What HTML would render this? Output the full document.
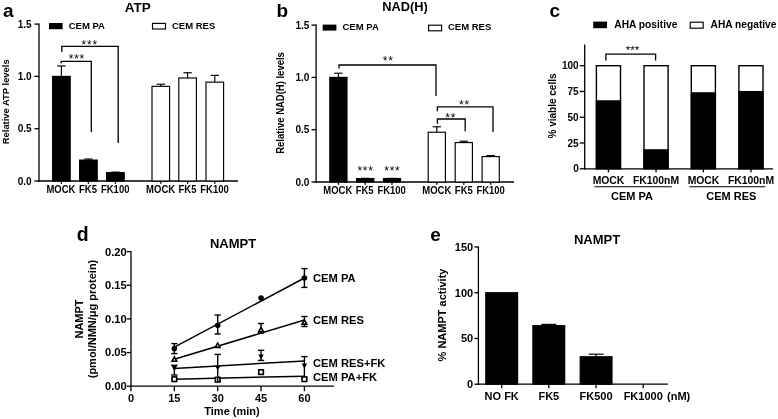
<!DOCTYPE html>
<html><head><meta charset="utf-8"><title>Figure</title>
<style>
html,body{margin:0;padding:0;background:#fff;}
svg{display:block;}
svg text{font-family:"Liberation Sans",sans-serif;fill:#000;}
</style></head><body>
<svg width="778" height="419" viewBox="0 0 778 419">
<rect x="0" y="0" width="778" height="419" fill="#fff"/>
<text x="3.00" y="16.80" font-size="19" text-anchor="start" font-weight="bold" >a</text>
<text x="137.80" y="12.30" font-size="13.5" text-anchor="middle" font-weight="bold" >ATP</text>
<line x1="39.00" y1="23.50" x2="39.00" y2="181.60" stroke="#000" stroke-width="1.3" />
<line x1="38.40" y1="181.00" x2="238.00" y2="181.00" stroke="#000" stroke-width="1.3" />
<line x1="34.40" y1="181.00" x2="39.00" y2="181.00" stroke="#000" stroke-width="1.3" />
<text x="31.70" y="184.50" font-size="10.1" text-anchor="end" font-weight="bold" >0.0</text>
<line x1="34.40" y1="128.70" x2="39.00" y2="128.70" stroke="#000" stroke-width="1.3" />
<text x="31.70" y="132.20" font-size="10.1" text-anchor="end" font-weight="bold" >0.5</text>
<line x1="34.40" y1="76.40" x2="39.00" y2="76.40" stroke="#000" stroke-width="1.3" />
<text x="31.70" y="79.90" font-size="10.1" text-anchor="end" font-weight="bold" >1.0</text>
<line x1="34.40" y1="24.10" x2="39.00" y2="24.10" stroke="#000" stroke-width="1.3" />
<text x="31.70" y="27.60" font-size="10.1" text-anchor="end" font-weight="bold" >1.5</text>
<text transform="translate(8.60,101.80) rotate(-90) scale(0.9434,1)" font-size="9.96" text-anchor="middle" font-weight="bold">Relative ATP levels</text>
<line x1="61.40" y1="65.94" x2="61.40" y2="76.40" stroke="#000" stroke-width="1.15" />
<line x1="57.20" y1="65.94" x2="65.60" y2="65.94" stroke="#000" stroke-width="1.15" />
<rect x="52.60" y="76.40" width="17.60" height="104.60" fill="#000" stroke="#000" stroke-width="1.15"/>
<line x1="61.40" y1="181.00" x2="61.40" y2="183.80" stroke="#000" stroke-width="1.3" />
<line x1="88.40" y1="159.03" x2="88.40" y2="160.08" stroke="#000" stroke-width="1.15" />
<line x1="84.20" y1="159.03" x2="92.60" y2="159.03" stroke="#000" stroke-width="1.15" />
<rect x="79.60" y="160.08" width="17.60" height="20.92" fill="#000" stroke="#000" stroke-width="1.15"/>
<line x1="88.40" y1="181.00" x2="88.40" y2="183.80" stroke="#000" stroke-width="1.3" />
<line x1="115.40" y1="172.11" x2="115.40" y2="172.63" stroke="#000" stroke-width="1.15" />
<line x1="111.20" y1="172.11" x2="119.60" y2="172.11" stroke="#000" stroke-width="1.15" />
<rect x="106.60" y="172.63" width="17.60" height="8.37" fill="#000" stroke="#000" stroke-width="1.15"/>
<line x1="115.40" y1="181.00" x2="115.40" y2="183.80" stroke="#000" stroke-width="1.3" />
<line x1="160.80" y1="84.25" x2="160.80" y2="86.34" stroke="#000" stroke-width="1.15" />
<line x1="156.60" y1="84.25" x2="165.00" y2="84.25" stroke="#000" stroke-width="1.15" />
<rect x="152.00" y="86.34" width="17.60" height="94.66" fill="#fff" stroke="#000" stroke-width="1.15"/>
<line x1="160.80" y1="181.00" x2="160.80" y2="183.80" stroke="#000" stroke-width="1.3" />
<line x1="187.60" y1="72.74" x2="187.60" y2="77.97" stroke="#000" stroke-width="1.15" />
<line x1="183.40" y1="72.74" x2="191.80" y2="72.74" stroke="#000" stroke-width="1.15" />
<rect x="178.80" y="77.97" width="17.60" height="103.03" fill="#fff" stroke="#000" stroke-width="1.15"/>
<line x1="187.60" y1="181.00" x2="187.60" y2="183.80" stroke="#000" stroke-width="1.3" />
<line x1="214.80" y1="75.35" x2="214.80" y2="82.15" stroke="#000" stroke-width="1.15" />
<line x1="210.60" y1="75.35" x2="219.00" y2="75.35" stroke="#000" stroke-width="1.15" />
<rect x="206.00" y="82.15" width="17.60" height="98.85" fill="#fff" stroke="#000" stroke-width="1.15"/>
<line x1="214.80" y1="181.00" x2="214.80" y2="183.80" stroke="#000" stroke-width="1.3" />
<text transform="translate(60.90,193.30) scale(0.9434,1)" font-size="10.07" text-anchor="middle" font-weight="bold" >MOCK</text>
<text transform="translate(88.00,193.30) scale(0.9434,1)" font-size="10.07" text-anchor="middle" font-weight="bold" >FK5</text>
<text transform="translate(115.20,193.30) scale(0.9434,1)" font-size="10.07" text-anchor="middle" font-weight="bold" >FK100</text>
<text transform="translate(160.60,193.30) scale(0.9434,1)" font-size="10.07" text-anchor="middle" font-weight="bold" >MOCK</text>
<text transform="translate(187.50,193.30) scale(0.9434,1)" font-size="10.07" text-anchor="middle" font-weight="bold" >FK5</text>
<text transform="translate(214.50,193.30) scale(0.9434,1)" font-size="10.07" text-anchor="middle" font-weight="bold" >FK100</text>
<rect x="49.00" y="23.00" width="13.60" height="6.20" fill="#000" stroke="none" stroke-width="0"/>
<text x="68.70" y="29.20" font-size="9.5" text-anchor="start" font-weight="bold" >CEM PA</text>
<rect x="152.50" y="23.40" width="13.00" height="5.60" fill="#fff" stroke="#000" stroke-width="1.15"/>
<text x="172.00" y="29.20" font-size="9.5" text-anchor="start" font-weight="bold" >CEM RES</text>
<polyline points="61.80,52.10 61.80,46.30 118.20,46.30 118.20,143.00" fill="none" stroke="#000" stroke-width="1.3" stroke-linejoin="miter"/>
<polyline points="61.20,63.30 61.20,61.30 91.30,61.30 91.30,132.00" fill="none" stroke="#000" stroke-width="1.3" stroke-linejoin="miter"/>
<text x="81.52" y="49.00" font-size="12" font-weight="normal" letter-spacing="0.78">***</text>
<text x="68.72" y="63.00" font-size="12" font-weight="normal" letter-spacing="0.78">***</text>
<text x="276.50" y="16.50" font-size="19" text-anchor="start" font-weight="bold" >b</text>
<text x="405.00" y="11.00" font-size="12.8" text-anchor="middle" font-weight="bold" >NAD(H)</text>
<line x1="316.10" y1="24.50" x2="316.10" y2="182.60" stroke="#000" stroke-width="1.3" />
<line x1="315.50" y1="182.00" x2="514.00" y2="182.00" stroke="#000" stroke-width="1.3" />
<line x1="311.50" y1="182.00" x2="316.10" y2="182.00" stroke="#000" stroke-width="1.3" />
<text x="309.50" y="185.50" font-size="10.1" text-anchor="end" font-weight="bold" >0.0</text>
<line x1="311.50" y1="129.70" x2="316.10" y2="129.70" stroke="#000" stroke-width="1.3" />
<text x="309.50" y="133.20" font-size="10.1" text-anchor="end" font-weight="bold" >0.5</text>
<line x1="311.50" y1="77.40" x2="316.10" y2="77.40" stroke="#000" stroke-width="1.3" />
<text x="309.50" y="80.90" font-size="10.1" text-anchor="end" font-weight="bold" >1.0</text>
<line x1="311.50" y1="25.10" x2="316.10" y2="25.10" stroke="#000" stroke-width="1.3" />
<text x="309.50" y="28.60" font-size="10.1" text-anchor="end" font-weight="bold" >1.5</text>
<text transform="translate(284.20,103.00) rotate(-90) scale(0.9434,1)" font-size="10.07" text-anchor="middle" font-weight="bold">Relative NAD(H) levels</text>
<line x1="338.40" y1="73.22" x2="338.40" y2="77.40" stroke="#000" stroke-width="1.15" />
<line x1="334.20" y1="73.22" x2="342.60" y2="73.22" stroke="#000" stroke-width="1.15" />
<rect x="329.80" y="77.40" width="17.20" height="104.60" fill="#000" stroke="#000" stroke-width="1.15"/>
<line x1="338.40" y1="182.00" x2="338.40" y2="184.80" stroke="#000" stroke-width="1.3" />
<line x1="365.20" y1="178.34" x2="365.20" y2="178.55" stroke="#000" stroke-width="1.15" />
<line x1="361.00" y1="178.34" x2="369.40" y2="178.34" stroke="#000" stroke-width="1.15" />
<rect x="356.60" y="178.55" width="17.20" height="3.45" fill="#000" stroke="#000" stroke-width="1.15"/>
<line x1="365.20" y1="182.00" x2="365.20" y2="184.80" stroke="#000" stroke-width="1.3" />
<line x1="392.00" y1="178.34" x2="392.00" y2="178.55" stroke="#000" stroke-width="1.15" />
<line x1="387.80" y1="178.34" x2="396.20" y2="178.34" stroke="#000" stroke-width="1.15" />
<rect x="383.40" y="178.55" width="17.20" height="3.45" fill="#000" stroke="#000" stroke-width="1.15"/>
<line x1="392.00" y1="182.00" x2="392.00" y2="184.80" stroke="#000" stroke-width="1.3" />
<line x1="436.80" y1="126.77" x2="436.80" y2="132.21" stroke="#000" stroke-width="1.15" />
<line x1="432.60" y1="126.77" x2="441.00" y2="126.77" stroke="#000" stroke-width="1.15" />
<rect x="428.20" y="132.21" width="17.20" height="49.79" fill="#fff" stroke="#000" stroke-width="1.15"/>
<line x1="436.80" y1="182.00" x2="436.80" y2="184.80" stroke="#000" stroke-width="1.3" />
<line x1="463.80" y1="141.21" x2="463.80" y2="142.57" stroke="#000" stroke-width="1.15" />
<line x1="459.60" y1="141.21" x2="468.00" y2="141.21" stroke="#000" stroke-width="1.15" />
<rect x="455.20" y="142.57" width="17.20" height="39.43" fill="#fff" stroke="#000" stroke-width="1.15"/>
<line x1="463.80" y1="182.00" x2="463.80" y2="184.80" stroke="#000" stroke-width="1.3" />
<line x1="490.70" y1="155.54" x2="490.70" y2="156.58" stroke="#000" stroke-width="1.15" />
<line x1="486.50" y1="155.54" x2="494.90" y2="155.54" stroke="#000" stroke-width="1.15" />
<rect x="482.10" y="156.58" width="17.20" height="25.42" fill="#fff" stroke="#000" stroke-width="1.15"/>
<line x1="490.70" y1="182.00" x2="490.70" y2="184.80" stroke="#000" stroke-width="1.3" />
<text transform="translate(337.80,193.90) scale(0.9434,1)" font-size="10.07" text-anchor="middle" font-weight="bold" >MOCK</text>
<text transform="translate(364.60,193.90) scale(0.9434,1)" font-size="10.07" text-anchor="middle" font-weight="bold" >FK5</text>
<text transform="translate(391.60,193.90) scale(0.9434,1)" font-size="10.07" text-anchor="middle" font-weight="bold" >FK100</text>
<text transform="translate(436.80,193.90) scale(0.9434,1)" font-size="10.07" text-anchor="middle" font-weight="bold" >MOCK</text>
<text transform="translate(463.80,193.90) scale(0.9434,1)" font-size="10.07" text-anchor="middle" font-weight="bold" >FK5</text>
<text transform="translate(490.60,193.90) scale(0.9434,1)" font-size="10.07" text-anchor="middle" font-weight="bold" >FK100</text>
<rect x="322.70" y="24.60" width="13.70" height="6.00" fill="#000" stroke="none" stroke-width="0"/>
<text x="342.50" y="30.40" font-size="9.5" text-anchor="start" font-weight="bold" >CEM PA</text>
<rect x="428.60" y="25.20" width="13.00" height="5.60" fill="#fff" stroke="#000" stroke-width="1.15"/>
<text x="448.00" y="30.40" font-size="9.5" text-anchor="start" font-weight="bold" >CEM RES</text>
<polyline points="339.00,68.40 339.00,65.00 436.00,65.00 436.00,96.00" fill="none" stroke="#000" stroke-width="1.3" stroke-linejoin="miter"/>
<text x="382.74" y="65.10" font-size="12" font-weight="normal" letter-spacing="0.78">**</text>
<polyline points="437.40,111.30 437.40,106.80 493.00,106.80 493.00,132.00" fill="none" stroke="#000" stroke-width="1.3" stroke-linejoin="miter"/>
<text x="458.94" y="109.20" font-size="12" font-weight="normal" letter-spacing="0.78">**</text>
<polyline points="437.40,123.80 437.40,119.00 465.20,119.00 465.20,131.30" fill="none" stroke="#000" stroke-width="1.3" stroke-linejoin="miter"/>
<text x="445.34" y="121.90" font-size="12" font-weight="normal" letter-spacing="0.78">**</text>
<text x="357.42" y="174.90" font-size="12" font-weight="normal" letter-spacing="0.78">***</text>
<text x="384.22" y="174.90" font-size="12" font-weight="normal" letter-spacing="0.78">***</text>
<text x="549.50" y="17.00" font-size="19" text-anchor="start" font-weight="bold" >c</text>
<line x1="584.70" y1="44.60" x2="584.70" y2="169.40" stroke="#000" stroke-width="1.3" />
<line x1="584.10" y1="168.80" x2="773.00" y2="168.80" stroke="#000" stroke-width="1.3" />
<line x1="579.70" y1="168.80" x2="584.70" y2="168.80" stroke="#000" stroke-width="1.3" />
<text x="578.70" y="172.30" font-size="10" text-anchor="end" font-weight="bold" >0</text>
<line x1="579.70" y1="143.03" x2="584.70" y2="143.03" stroke="#000" stroke-width="1.3" />
<text x="578.70" y="146.53" font-size="10" text-anchor="end" font-weight="bold" >25</text>
<line x1="579.70" y1="117.25" x2="584.70" y2="117.25" stroke="#000" stroke-width="1.3" />
<text x="578.70" y="120.75" font-size="10" text-anchor="end" font-weight="bold" >50</text>
<line x1="579.70" y1="91.48" x2="584.70" y2="91.48" stroke="#000" stroke-width="1.3" />
<text x="578.70" y="94.98" font-size="10" text-anchor="end" font-weight="bold" >75</text>
<line x1="579.70" y1="65.70" x2="584.70" y2="65.70" stroke="#000" stroke-width="1.3" />
<text x="578.70" y="69.20" font-size="10" text-anchor="end" font-weight="bold" >100</text>
<text transform="translate(556.20,106.00) rotate(-90)" font-size="10" text-anchor="middle" font-weight="bold">% viable cells</text>
<rect x="596.40" y="65.70" width="24.10" height="103.10" fill="#fff" stroke="#000" stroke-width="1.4"/>
<rect x="595.80" y="100.24" width="25.30" height="68.56" fill="#000" stroke="none" stroke-width="0"/>
<line x1="608.45" y1="168.80" x2="608.45" y2="172.30" stroke="#000" stroke-width="1.3" />
<rect x="644.00" y="65.70" width="24.10" height="103.10" fill="#fff" stroke="#000" stroke-width="1.4"/>
<rect x="643.40" y="149.21" width="25.30" height="19.59" fill="#000" stroke="none" stroke-width="0"/>
<line x1="656.05" y1="168.80" x2="656.05" y2="172.30" stroke="#000" stroke-width="1.3" />
<rect x="691.30" y="65.70" width="24.10" height="103.10" fill="#fff" stroke="#000" stroke-width="1.4"/>
<rect x="690.70" y="92.20" width="25.30" height="76.60" fill="#000" stroke="none" stroke-width="0"/>
<line x1="703.35" y1="168.80" x2="703.35" y2="172.30" stroke="#000" stroke-width="1.3" />
<rect x="738.90" y="65.70" width="24.10" height="103.10" fill="#fff" stroke="#000" stroke-width="1.4"/>
<rect x="738.30" y="90.96" width="25.30" height="77.84" fill="#000" stroke="none" stroke-width="0"/>
<line x1="750.95" y1="168.80" x2="750.95" y2="172.30" stroke="#000" stroke-width="1.3" />
<text x="608.50" y="183.50" font-size="10.4" text-anchor="middle" font-weight="bold" >MOCK</text>
<text x="656.00" y="183.50" font-size="10.4" text-anchor="middle" font-weight="bold" >FK100nM</text>
<text x="703.50" y="183.50" font-size="10.4" text-anchor="middle" font-weight="bold" >MOCK</text>
<text x="751.00" y="183.50" font-size="10.4" text-anchor="middle" font-weight="bold" >FK100nM</text>
<line x1="594.40" y1="186.80" x2="671.80" y2="186.80" stroke="#000" stroke-width="1.1" />
<line x1="689.40" y1="186.80" x2="765.30" y2="186.80" stroke="#000" stroke-width="1.1" />
<text x="632.00" y="199.70" font-size="11" text-anchor="middle" font-weight="bold" >CEM PA</text>
<text x="731.30" y="199.70" font-size="11" text-anchor="middle" font-weight="bold" >CEM RES</text>
<rect x="593.20" y="21.60" width="13.80" height="6.60" fill="#000" stroke="none" stroke-width="0"/>
<text x="614.30" y="28.30" font-size="10.2" text-anchor="start" font-weight="bold" >AHA positive</text>
<rect x="690.20" y="22.20" width="13.00" height="6.00" fill="#fff" stroke="#000" stroke-width="1.15"/>
<text x="710.60" y="28.30" font-size="10.2" text-anchor="start" font-weight="bold" >AHA negative</text>
<polyline points="605.90,60.40 605.90,54.20 655.60,54.20 655.60,60.40" fill="none" stroke="#000" stroke-width="1.3" stroke-linejoin="miter"/>
<text x="625.76" y="54.41" font-size="11.5" font-weight="normal" letter-spacing="0.03">***</text>
<text x="76.80" y="241.00" font-size="19.5" text-anchor="start" font-weight="bold" >d</text>
<text x="233.00" y="248.00" font-size="13" text-anchor="middle" font-weight="bold" >NAMPT</text>
<line x1="131.00" y1="251.00" x2="131.00" y2="386.80" stroke="#000" stroke-width="1.3" />
<line x1="130.40" y1="386.20" x2="334.00" y2="386.20" stroke="#000" stroke-width="1.3" />
<line x1="126.70" y1="386.20" x2="131.00" y2="386.20" stroke="#000" stroke-width="1.3" />
<text x="126.80" y="390.10" font-size="11.2" text-anchor="end" font-weight="bold" >0.00</text>
<line x1="126.70" y1="352.55" x2="131.00" y2="352.55" stroke="#000" stroke-width="1.3" />
<text x="126.80" y="356.45" font-size="11.2" text-anchor="end" font-weight="bold" >0.05</text>
<line x1="126.70" y1="318.90" x2="131.00" y2="318.90" stroke="#000" stroke-width="1.3" />
<text x="126.80" y="322.80" font-size="11.2" text-anchor="end" font-weight="bold" >0.10</text>
<line x1="126.70" y1="285.25" x2="131.00" y2="285.25" stroke="#000" stroke-width="1.3" />
<text x="126.80" y="289.15" font-size="11.2" text-anchor="end" font-weight="bold" >0.15</text>
<line x1="126.70" y1="251.60" x2="131.00" y2="251.60" stroke="#000" stroke-width="1.3" />
<text x="126.80" y="255.50" font-size="11.2" text-anchor="end" font-weight="bold" >0.20</text>
<line x1="131.00" y1="386.20" x2="131.00" y2="391.20" stroke="#000" stroke-width="1.3" />
<text x="131.00" y="401.80" font-size="11" text-anchor="middle" font-weight="bold" >0</text>
<line x1="174.35" y1="386.20" x2="174.35" y2="391.20" stroke="#000" stroke-width="1.3" />
<text x="174.35" y="401.80" font-size="11" text-anchor="middle" font-weight="bold" >15</text>
<line x1="217.70" y1="386.20" x2="217.70" y2="391.20" stroke="#000" stroke-width="1.3" />
<text x="217.70" y="401.80" font-size="11" text-anchor="middle" font-weight="bold" >30</text>
<line x1="261.05" y1="386.20" x2="261.05" y2="391.20" stroke="#000" stroke-width="1.3" />
<text x="261.05" y="401.80" font-size="11" text-anchor="middle" font-weight="bold" >45</text>
<line x1="304.40" y1="386.20" x2="304.40" y2="391.20" stroke="#000" stroke-width="1.3" />
<text x="304.40" y="401.80" font-size="11" text-anchor="middle" font-weight="bold" >60</text>
<text x="232.00" y="414.60" font-size="11" text-anchor="middle" font-weight="bold" >Time (min)</text>
<text transform="translate(82.50,319.00) rotate(-90)" font-size="11" text-anchor="middle" font-weight="bold">NAMPT</text>
<text transform="translate(95.50,319.00) rotate(-90)" font-size="11" text-anchor="middle" font-weight="bold">(pmol/NMN/μg protein)</text>
<line x1="174.35" y1="347.20" x2="304.40" y2="278.00" stroke="#000" stroke-width="1.5" />
<line x1="174.35" y1="359.30" x2="304.40" y2="320.00" stroke="#000" stroke-width="1.5" />
<line x1="174.35" y1="368.40" x2="304.40" y2="360.90" stroke="#000" stroke-width="1.5" />
<line x1="174.35" y1="379.20" x2="304.40" y2="376.20" stroke="#000" stroke-width="1.5" />
<line x1="174.35" y1="343.60" x2="174.35" y2="353.60" stroke="#000" stroke-width="1.4" />
<line x1="171.25" y1="343.60" x2="177.45" y2="343.60" stroke="#000" stroke-width="1.4" />
<line x1="171.25" y1="353.60" x2="177.45" y2="353.60" stroke="#000" stroke-width="1.4" />
<circle cx="174.35" cy="348.60" r="2.8" fill="#000"/>
<line x1="217.70" y1="315.00" x2="217.70" y2="334.00" stroke="#000" stroke-width="1.4" />
<line x1="214.60" y1="315.00" x2="220.80" y2="315.00" stroke="#000" stroke-width="1.4" />
<line x1="214.60" y1="334.00" x2="220.80" y2="334.00" stroke="#000" stroke-width="1.4" />
<circle cx="217.70" cy="325.30" r="2.8" fill="#000"/>
<circle cx="261.05" cy="298.00" r="2.8" fill="#000"/>
<line x1="304.40" y1="268.60" x2="304.40" y2="287.40" stroke="#000" stroke-width="1.4" />
<line x1="301.30" y1="268.60" x2="307.50" y2="268.60" stroke="#000" stroke-width="1.4" />
<line x1="301.30" y1="287.40" x2="307.50" y2="287.40" stroke="#000" stroke-width="1.4" />
<circle cx="304.40" cy="278.00" r="2.8" fill="#000"/>
<polygon points="174.35,357.00 171.95,361.30 176.75,361.30" fill="#fff" stroke="#000" stroke-width="1.6" stroke-linejoin="miter"/>
<polygon points="217.70,343.10 215.30,347.40 220.10,347.40" fill="#fff" stroke="#000" stroke-width="1.6" stroke-linejoin="miter"/>
<line x1="261.05" y1="323.50" x2="261.05" y2="333.00" stroke="#000" stroke-width="1.4" />
<line x1="257.95" y1="323.50" x2="264.15" y2="323.50" stroke="#000" stroke-width="1.4" />
<line x1="257.95" y1="333.00" x2="264.15" y2="333.00" stroke="#000" stroke-width="1.4" />
<polygon points="261.05,327.30 258.65,331.60 263.45,331.60" fill="#fff" stroke="#000" stroke-width="1.6" stroke-linejoin="miter"/>
<line x1="304.40" y1="316.50" x2="304.40" y2="326.50" stroke="#000" stroke-width="1.4" />
<line x1="301.30" y1="316.50" x2="307.50" y2="316.50" stroke="#000" stroke-width="1.4" />
<line x1="301.30" y1="326.50" x2="307.50" y2="326.50" stroke="#000" stroke-width="1.4" />
<polygon points="304.40,319.80 302.00,324.10 306.80,324.10" fill="#fff" stroke="#000" stroke-width="1.6" stroke-linejoin="miter"/>
<line x1="174.35" y1="365.30" x2="174.35" y2="375.00" stroke="#000" stroke-width="1.4" />
<line x1="171.15" y1="365.30" x2="177.55" y2="365.30" stroke="#000" stroke-width="1.4" />
<line x1="171.15" y1="375.00" x2="177.55" y2="375.00" stroke="#000" stroke-width="1.4" />
<polygon points="174.35,371.20 171.65,366.00 177.05,366.00" fill="#000"/>
<line x1="217.70" y1="354.40" x2="217.70" y2="381.00" stroke="#000" stroke-width="1.4" />
<line x1="214.50" y1="354.40" x2="220.90" y2="354.40" stroke="#000" stroke-width="1.4" />
<line x1="214.50" y1="381.00" x2="220.90" y2="381.00" stroke="#000" stroke-width="1.4" />
<polygon points="217.70,370.60 215.00,365.40 220.40,365.40" fill="#000"/>
<line x1="261.05" y1="350.30" x2="261.05" y2="360.40" stroke="#000" stroke-width="1.4" />
<line x1="257.85" y1="350.30" x2="264.25" y2="350.30" stroke="#000" stroke-width="1.4" />
<line x1="257.85" y1="360.40" x2="264.25" y2="360.40" stroke="#000" stroke-width="1.4" />
<polygon points="261.05,359.80 258.35,354.60 263.75,354.60" fill="#000"/>
<line x1="304.40" y1="356.60" x2="304.40" y2="378.00" stroke="#000" stroke-width="1.4" />
<line x1="301.20" y1="356.60" x2="307.60" y2="356.60" stroke="#000" stroke-width="1.4" />
<line x1="301.20" y1="378.00" x2="307.60" y2="378.00" stroke="#000" stroke-width="1.4" />
<polygon points="304.40,368.60 301.70,363.40 307.10,363.40" fill="#000"/>
<rect x="172.05" y="376.90" width="4.60" height="4.60" fill="#fff" stroke="#000" stroke-width="1.6"/>
<rect x="215.40" y="377.40" width="4.60" height="4.60" fill="#fff" stroke="#000" stroke-width="1.6"/>
<rect x="258.75" y="369.80" width="4.60" height="4.60" fill="#fff" stroke="#000" stroke-width="1.6"/>
<rect x="302.10" y="376.90" width="4.60" height="4.60" fill="#fff" stroke="#000" stroke-width="1.6"/>
<line x1="217.70" y1="376.00" x2="217.70" y2="382.50" stroke="#000" stroke-width="1.4" />
<text x="313.00" y="282.40" font-size="11.2" text-anchor="start" font-weight="bold" >CEM PA</text>
<text x="313.00" y="324.20" font-size="11.2" text-anchor="start" font-weight="bold" >CEM RES</text>
<text x="313.00" y="366.60" font-size="11.2" text-anchor="start" font-weight="bold" >CEM RES+FK</text>
<text x="313.00" y="380.50" font-size="11.2" text-anchor="start" font-weight="bold" >CEM PA+FK</text>
<text x="430.30" y="241.00" font-size="19" text-anchor="start" font-weight="bold" >e</text>
<text x="597.00" y="244.00" font-size="13" text-anchor="middle" font-weight="bold" >NAMPT</text>
<line x1="478.40" y1="246.41" x2="478.40" y2="384.80" stroke="#000" stroke-width="1.3" />
<line x1="477.80" y1="384.20" x2="667.80" y2="384.20" stroke="#000" stroke-width="1.3" />
<line x1="474.40" y1="384.20" x2="478.40" y2="384.20" stroke="#000" stroke-width="1.3" />
<text x="473.20" y="388.10" font-size="11" text-anchor="end" font-weight="bold" >0</text>
<line x1="474.40" y1="338.47" x2="478.40" y2="338.47" stroke="#000" stroke-width="1.3" />
<text x="473.20" y="342.37" font-size="11" text-anchor="end" font-weight="bold" >50</text>
<line x1="474.40" y1="292.74" x2="478.40" y2="292.74" stroke="#000" stroke-width="1.3" />
<text x="473.20" y="296.64" font-size="11" text-anchor="end" font-weight="bold" >100</text>
<line x1="474.40" y1="247.01" x2="478.40" y2="247.01" stroke="#000" stroke-width="1.3" />
<text x="473.20" y="250.91" font-size="11" text-anchor="end" font-weight="bold" >150</text>
<text transform="translate(446.00,315.00) rotate(-90)" font-size="11" text-anchor="middle" font-weight="bold">% NAMPT activity</text>
<rect x="485.80" y="292.74" width="31.80" height="91.46" fill="#000" stroke="#000" stroke-width="1.2"/>
<line x1="501.70" y1="384.20" x2="501.70" y2="388.20" stroke="#000" stroke-width="1.3" />
<line x1="548.80" y1="324.39" x2="548.80" y2="325.67" stroke="#000" stroke-width="1.15" />
<line x1="541.30" y1="324.39" x2="556.30" y2="324.39" stroke="#000" stroke-width="1.15" />
<rect x="532.90" y="325.67" width="31.80" height="58.53" fill="#000" stroke="#000" stroke-width="1.2"/>
<line x1="548.80" y1="384.20" x2="548.80" y2="388.20" stroke="#000" stroke-width="1.3" />
<line x1="596.10" y1="354.20" x2="596.10" y2="356.76" stroke="#000" stroke-width="1.15" />
<line x1="588.60" y1="354.20" x2="603.60" y2="354.20" stroke="#000" stroke-width="1.15" />
<rect x="580.20" y="356.76" width="31.80" height="27.44" fill="#000" stroke="#000" stroke-width="1.2"/>
<line x1="596.10" y1="384.20" x2="596.10" y2="388.20" stroke="#000" stroke-width="1.3" />
<line x1="643.20" y1="384.20" x2="643.20" y2="388.20" stroke="#000" stroke-width="1.3" />
<text x="501.70" y="399.80" font-size="11" text-anchor="middle" font-weight="bold" >NO FK</text>
<text x="548.80" y="399.80" font-size="11" text-anchor="middle" font-weight="bold" >FK5</text>
<text x="596.10" y="399.80" font-size="11" text-anchor="middle" font-weight="bold" >FK500</text>
<text x="643.20" y="399.80" font-size="11" text-anchor="middle" font-weight="bold" >FK1000</text>
<text x="667.00" y="399.80" font-size="11" text-anchor="start" font-weight="bold" >(nM)</text>
</svg>
</body></html>
